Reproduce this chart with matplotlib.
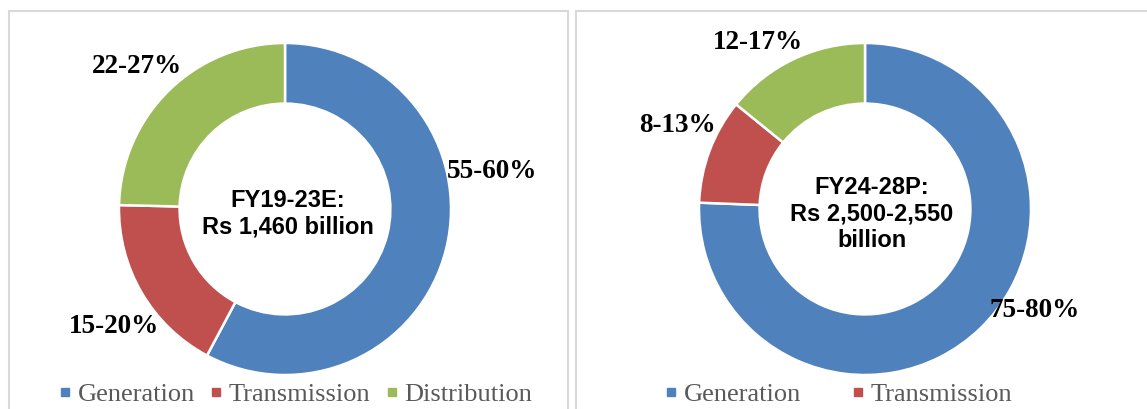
import matplotlib.pyplot as plt
from matplotlib.lines import Line2D
from matplotlib.patches import Rectangle

# data (midpoints of the shown ranges)
categories = ['Generation', 'Transmission', 'Distribution']
colors = ['#4F81BD', '#C0504D', '#9BBB59']

left_values = [57.5, 17.5, 24.5]
left_labels = ['55-60%', '15-20%', '22-27%']
left_title = 'FY19-23E:\nRs 1,460 billion'

right_values = [77.5, 10.5, 14.5]
right_labels = ['75-80%', '8-13%', '12-17%']
right_title = 'FY24-28P:\nRs 2,500-2,550\nbillion'

# label placement (units of donut radius)
left_label_pos = [(1.247, 0.223), (-1.03, -0.705), (-0.892, 0.861)]
right_label_pos = [(1.024, -0.614), (-1.127, 0.50), (-0.645, 1.006)]

W, H = 1147, 409
fig = plt.figure(figsize=(W / 100, H / 100), dpi=100)

# panel frames
border = '#d9d9d9'
fig.patches.append(Rectangle((9 / W, -0.05), 558.5 / W, (H - 11.5) / H + 0.05,
                             transform=fig.transFigure, fill=False,
                             edgecolor=border, linewidth=1.5))
fig.patches.append(Rectangle((576 / W, -0.05), 0.6, (H - 11.5) / H + 0.05,
                             transform=fig.transFigure, fill=False,
                             edgecolor=border, linewidth=1.5))

R = 166


def donut(cx, cy, values, labels, label_pos, title, title_dx):
    ax = fig.add_axes([(cx - R) / W, (H - cy - R) / H, 2 * R / W, 2 * R / H])
    ax.pie(values, colors=colors, startangle=90, counterclock=False,
           radius=1.0, wedgeprops=dict(width=0.365, edgecolor='white', linewidth=1.8))
    ax.set_xlim(-1, 1)
    ax.set_ylim(-1, 1)
    ax.set_aspect('equal')
    ax.axis('off')
    for lab, (x, y) in zip(labels, label_pos):
        ax.text(x, y, lab, ha='center', va='center', fontsize=19.5,
                fontweight='bold', family='Liberation Serif', color='black',
                clip_on=False)
    ax.text(title_dx, -0.03, title, ha='center', va='center', fontsize=17,
            fontweight='bold', family='Liberation Sans', linespacing=1.2)
    return ax


donut(285, 209, left_values, left_labels, left_label_pos, left_title, 0.018)
donut(865, 209, right_values, right_labels, right_label_pos, right_title, 0.042)

handles = [Line2D([], [], marker='s', linestyle='none', markersize=6,
                  markerfacecolor=c, markeredgecolor=c) for c in colors]
legend_font = {'family': 'Liberation Serif', 'size': 19}

leg1 = fig.legend(handles, categories, loc='center', ncol=3,
                  bbox_to_anchor=(296 / W, 15 / H), frameon=False,
                  prop=legend_font, handlelength=0.4, handletextpad=0.28,
                  columnspacing=0.6, borderpad=0, borderaxespad=0)
for t in leg1.get_texts():
    t.set_color('#595959')

leg2 = fig.legend(handles[:2], categories[:2], loc='center', ncol=2,
                  bbox_to_anchor=(839 / W, 15 / H), frameon=False,
                  prop=legend_font, handlelength=0.4, handletextpad=0.28,
                  columnspacing=1.95, borderpad=0, borderaxespad=0)
for t in leg2.get_texts():
    t.set_color('#595959')

fig.savefig('out.png', dpi=100)
